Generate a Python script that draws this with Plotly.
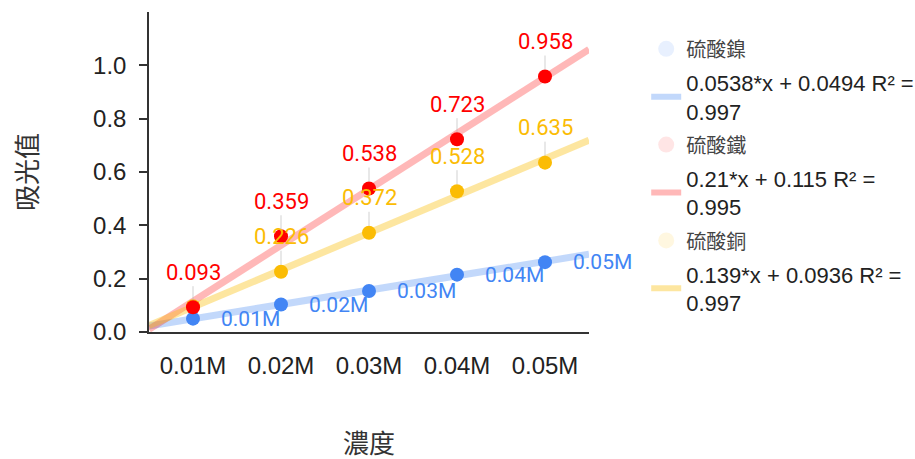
import plotly.graph_objects as go

# ---- data ----
categories = ["0.01M", "0.02M", "0.03M", "0.04M", "0.05M"]
series_names = ["硫酸鎳", "硫酸鐵", "硫酸銅"]
nickel = [0.050, 0.103, 0.154, 0.215, 0.262]
iron = [0.093, 0.359, 0.538, 0.723, 0.958]
copper = [0.097, 0.226, 0.372, 0.528, 0.635]
trend_slope = [0.0538, 0.21, 0.139]
trend_intercept = [0.0494, 0.115, 0.0936]
trend_r2 = [0.997, 0.995, 0.997]
y_ticks = [0.0, 0.2, 0.4, 0.6, 0.8, 1.0]

colors = ["#4285F4", "#FF0000", "#FBBC04"]
trend_colors = ["rgba(66,133,244,0.32)", "rgba(255,0,0,0.28)", "rgba(251,188,4,0.38)"]
legend_marker_colors = ["rgba(66,133,244,0.12)", "rgba(255,0,0,0.10)", "rgba(251,188,4,0.12)"]

xpos = list(range(1, len(categories) + 1))
x_lo, x_hi = 0.5, len(categories) + 0.5
series_vals = [nickel, iron, copper]

TICK_FONT = "Arial, 'Liberation Sans', 'Noto Sans CJK TC', sans-serif"
LABEL_FONT = "Roboto, Arial, sans-serif"
CJK_FONT = "Arial, 'Noto Sans CJK TC', 'Noto Sans CJK SC', sans-serif"

fig = go.Figure()

# trend lines
for k in range(3):
    xs = [x_lo, x_hi]
    ys = [trend_intercept[k] + trend_slope[k] * (x - 1) for x in xs]
    fig.add_trace(go.Scatter(
        x=xs, y=ys, mode="lines",
        line=dict(color=trend_colors[k], width=7),
        showlegend=False, hoverinfo="skip", cliponaxis=True,
    ))

# points (blue, yellow, red so red sits on top)
for k in [0, 2, 1]:
    fig.add_trace(go.Scatter(
        x=xpos, y=series_vals[k], mode="markers",
        marker=dict(color=colors[k], size=14),
        showlegend=False, name=series_names[k], cliponaxis=False,
    ))

# legend-only entries
rank = 1
for k in range(3):
    fig.add_trace(go.Scatter(
        x=[None], y=[None], mode="markers",
        marker=dict(color=legend_marker_colors[k], size=16),
        name=f"<span style='font-size:20px;color:#444'>{series_names[k]}</span>",
        legendgroup=f"s{k}", legendrank=rank,
    ))
    rank += 1
    eq = f"{trend_slope[k]:g}*x + {trend_intercept[k]:g} R² =<br>{trend_r2[k]:g}"
    fig.add_trace(go.Scatter(
        x=[None], y=[None], mode="lines",
        line=dict(color=trend_colors[k], width=6),
        name=eq, legendgroup=f"t{k}", legendrank=rank,
    ))
    rank += 1

annotations = []
# blue series: category labels to the right of each point
for i, x in enumerate(xpos):
    annotations.append(dict(
        x=x, y=nickel[i], xref="x", yref="y", text=categories[i],
        showarrow=False, xanchor="left", yanchor="middle", xshift=26,
        font=dict(family=LABEL_FONT, size=21, color=colors[0]),
    ))
# red and yellow: value labels above with leader line
for k, vals in [(2, copper), (1, iron)]:
    for i, x in enumerate(xpos):
        if k == 2 and i == 0:
            continue  # label hidden (overlaps) in the original
        annotations.append(dict(
            x=x, y=vals[i], xref="x", yref="y", text=f"{vals[i]:.3f}",
            showarrow=True, ax=0, ay=-35, arrowhead=0, arrowwidth=1,
            arrowcolor="rgba(180,180,180,0.6)", standoff=7,
            font=dict(family=LABEL_FONT, size=22, color=colors[k]),
        ))

fig.update_layout(
    width=915, height=459,
    margin=dict(l=149, r=326, t=12, b=127, autoexpand=False),
    paper_bgcolor="white", plot_bgcolor="white",
    font=dict(family=TICK_FONT, size=22, color="#222"),
    annotations=annotations,
    showlegend=True,
    legend=dict(
        x=1.13, xanchor="left", y=0.95, yanchor="top",
        traceorder="grouped", tracegroupgap=2,
        font=dict(family=CJK_FONT, size=22, color="#222"),
        bgcolor="rgba(0,0,0,0)",
    ),
    xaxis=dict(
        range=[x_lo, x_hi], tickvals=xpos, ticktext=categories,
        showgrid=False, zeroline=False, showline=True, linecolor="#333", linewidth=1.5,
        ticks="outside", ticklen=11, tickcolor="rgba(0,0,0,0)",
        tickfont=dict(family=TICK_FONT, size=24, color="#222"),
        automargin=False,
        title=dict(text="濃度", standoff=58,
                   font=dict(family=CJK_FONT, size=26, color="#333")),
    ),
    yaxis=dict(
        range=[0, 1.2], tickvals=y_ticks, ticktext=[f"{v:.1f}" for v in y_ticks],
        showgrid=False, zeroline=False, showline=True, linecolor="#333", linewidth=1.5,
        ticks="outside", ticklen=8, tickcolor="#333", tickwidth=1.5,
        ticklabelstandoff=8, automargin=False,
        tickfont=dict(family=TICK_FONT, size=24, color="#222"),
        title=dict(text="吸光值", standoff=48,
                   font=dict(family=CJK_FONT, size=26, color="#333")),
    ),
)

fig.write_html("out.html")
